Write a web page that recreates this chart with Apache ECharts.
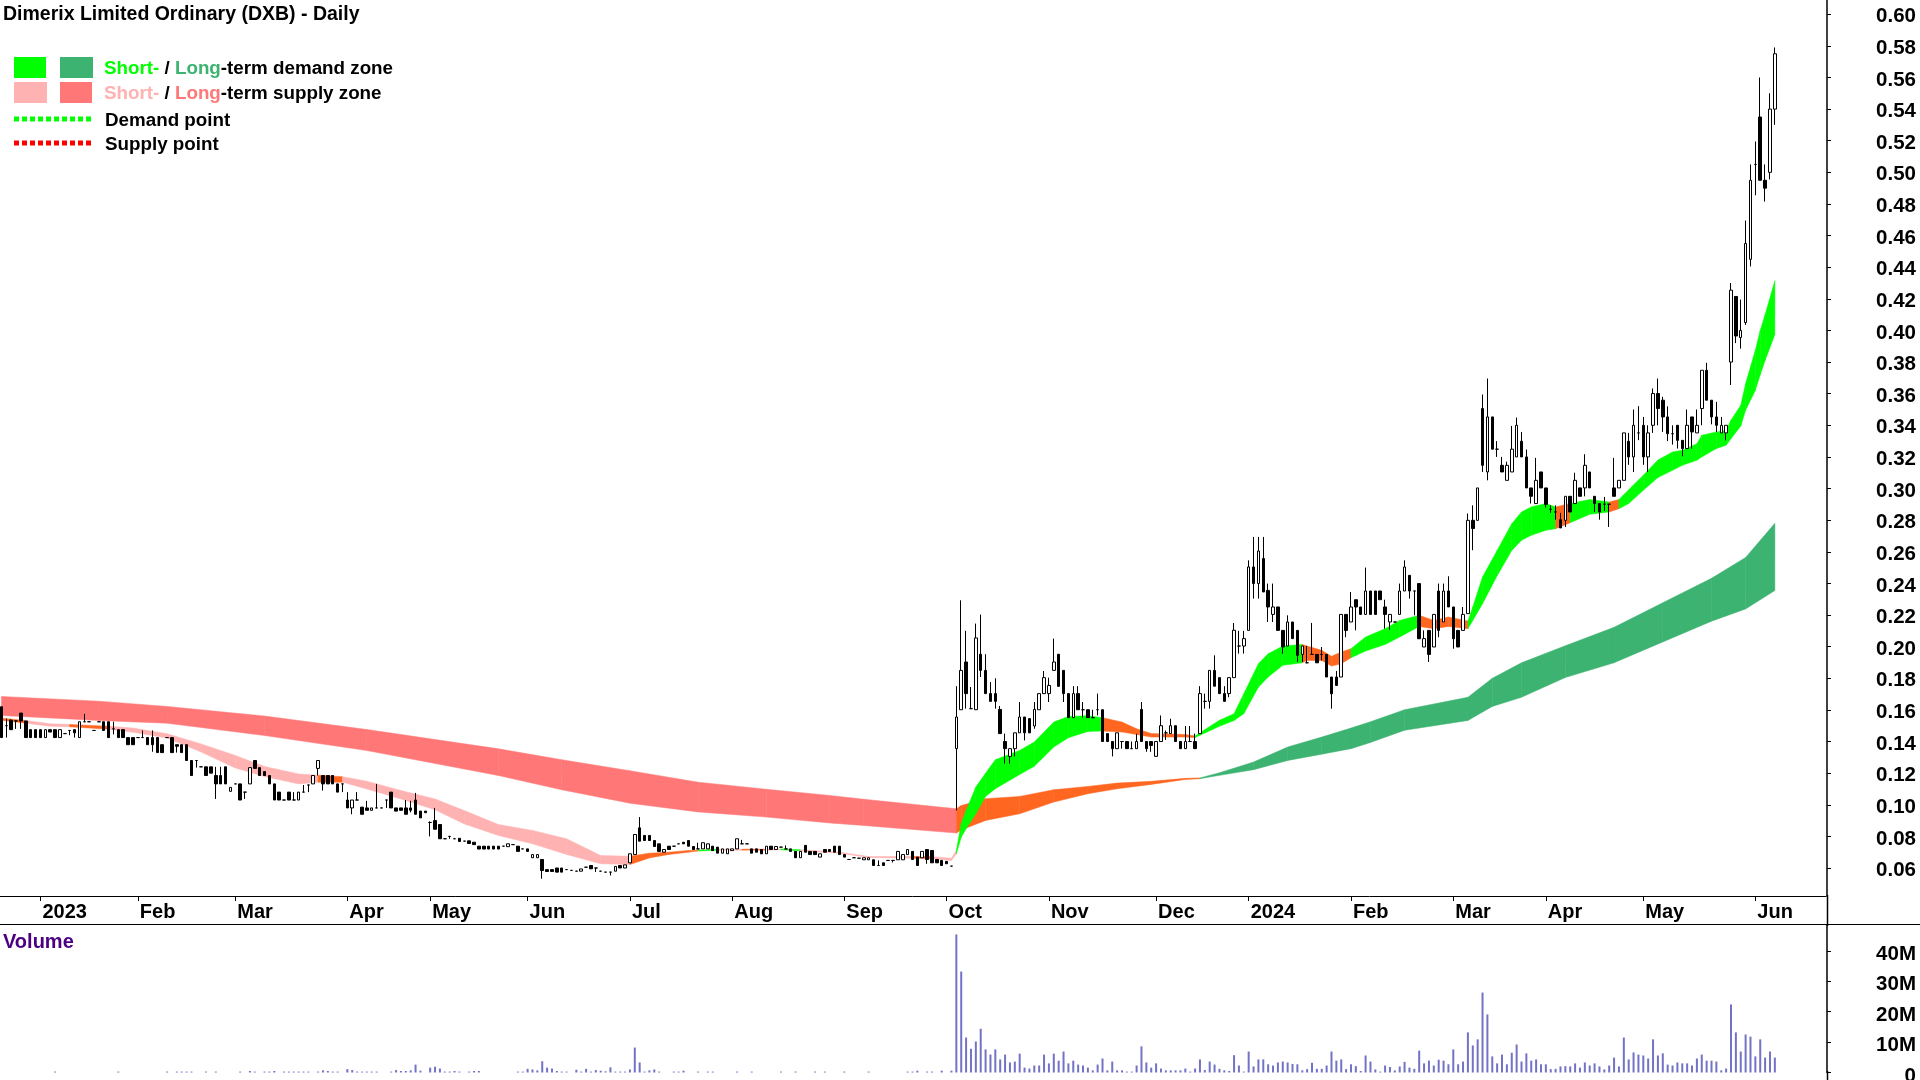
<!DOCTYPE html>
<html><head><meta charset="utf-8">
<style>html,body{margin:0;padding:0;background:#fff}#c{width:1920px;height:1080px}</style>
<script src="https://cdn.jsdelivr.net/npm/echarts@6/dist/echarts.min.js"></script>
</head><body><div id="c"></div>
<script>
const opens=[
.162,.15,.1535,.153,.158,.153,.1475,.1475,.1475,.1425,
.1475,.1475,.1425,.145,.147,.1475,.1425,.1525,.1525,.147,
.1525,.1525,.1525,.148,.1475,.1475,.1425,.1425,.1425,.1425,
.1425,.1425,.1425,.138,.1425,.1425,.138,.138,.138,.128,
.128,.124,.124,.124,.1185,.1185,.124,.1085,.1132,.1132,
.108,.1132,.128,.1235,.121,.1185,.1132,.108,.103,.108,
.103,.103,.108,.1125,.1132,.123,.1185,.1185,.1185,.1132,
.1132,.103,.098,.103,.0985,.098,.0965,.098,.098,.103,
.108,.098,.098,.098,.098,.103,.096,.096,.0888,.09,
.0875,.0785,.08,.0785,.0788,.077,.0772,.0763,.0738,.0738,
.0738,.0738,.0738,.0738,.0735,.0748,.0738,.0721,.0721,.0665,
.0665,.0654,.059,.059,.06,.06,.059,.0585,.058,.058,
.0605,.0616,.06,.058,.0574,.0574,.058,.0616,.06,.0633,
.0685,.0854,.0806,.0806,.0774,.0753,.07,.0738,.0738,.0753,
.0763,.0774,.0736,.0721,.0721,.0721,.0738,.0732,.0694,.069,
.071,.0721,.0753,.0753,.0721,.0721,.0717,.069,.0738,.0717,
.0732,.0721,.0721,.0705,.0665,.0743,.0705,.0705,.0669,.0717,
.0717,.0738,.0738,.0685,.0654,.0665,.0662,.0652,.0652,.0652,
.0616,.0633,.0648,.0648,.0652,.0652,.0685,.0705,.0669,.0665,
.0717,.0711,.0654,.0648,.0642,.0612,.1355,.1601,.1903,.1608,
.1601,.1952,.185,.1703,.1703,.1603,.14,.1306,.1355,.1455,
.1555,.1545,.1498,.1601,.1703,.1703,.185,.1952,.185,.1703,
.1551,.1703,.1601,.1601,.1551,.1601,.1601,.145,.14,.1355,
.14,.14,.1355,.1355,.1603,.14,.14,.1306,.14,.1455,
.145,.15,.14,.1355,.14,.14,.145,.1654,.1654,.185,
.1804,.1703,.1703,.1804,.2004,.2004,.2103,.2504,.2399,.2557,
.2356,.2204,.2251,.2103,.2004,.2156,.2103,.1951,.1898,.1951,
.1951,.1951,.1951,.1808,.1808,.1808,.2204,.2156,.2297,.2251,
.2204,.2352,.2352,.2352,.2251,.2156,.2156,.2204,.2352,.2451,
.2352,.2399,.1998,.2103,.1998,.2352,.2156,.2352,.2251,.2103,
.2103,.2209,.2799,.2799,.3506,.3105,.3453,.3249,.3147,.3052,
.3105,.32,.3299,.32,.3004,.2905,.3105,.3004,.2869,.2852,
.2803,.2799,.2951,.2905,.3004,.3004,.3105,.2951,.2905,.2901,
.2901,.3004,.3004,.3052,.3299,.32,.3352,.34,.32,.34,
.3601,.3559,.3453,.3347,.34,.3305,.3253,.3453,.3352,.3506,
.3748,.3559,.3453,.3352,.3352,.38,.4215,.3955,.405,.445,
.505,.535,.495,.50,.54];
const closes=[
.1425,.15,.1475,.153,.153,.1425,.1425,.1425,.1425,.1475,
.146,.1425,.1475,.145,.147,.1455,.1525,.1525,.1525,.147,
.1525,.147,.1425,.148,.1425,.1425,.138,.138,.1425,.1425,
.138,.138,.133,.133,.1425,.133,.137,.133,.128,.1185,
.128,.124,.1185,.12,.1132,.1132,.1132,.111,.1132,.103,
.108,.1235,.123,.1185,.1185,.1132,.103,.103,.103,.103,
.103,.108,.108,.1125,.1185,.128,.1132,.1132,.1132,.108,
.1132,.098,.103,.103,.094,.0965,.098,.098,.098,.103,
.098,.096,.0965,.094,.0965,.094,.0917,.095,.0888,.0845,
.0785,.0785,.08,.0785,.0768,.077,.0755,.0748,.072,.072,
.072,.072,.072,.0738,.0753,.0748,.0705,.0721,.0705,.0685,
.0685,.0584,.0578,.0578,.0574,.0574,.059,.0585,.058,.0594,
.0605,.0595,.06,.058,.0574,.0574,.061,.06,.062,.069,
.0812,.077,.0774,.0774,.0736,.0705,.0717,.0717,.0738,.0753,
.0753,.0738,.0717,.0721,.076,.0753,.071,.0694,.0721,.0721,
.0721,.0785,.0753,.0753,.0694,.07,.069,.0738,.0717,.0736,
.0732,.0721,.0705,.0665,.0705,.07,.0685,.0685,.069,.07,
.0705,.07,.0685,.0669,.0654,.0665,.0662,.0665,.0665,.0616,
.0616,.0616,.0648,.0648,.0705,.0685,.0717,.0654,.0616,.0705,
.0654,.0633,.0633,.0616,.0627,.0612,.1555,.185,.1703,.1608,
.2055,.185,.1703,.1654,.1654,.145,.1355,.1355,.1455,.1555,
.1455,.1455,.1603,.1703,.1804,.1755,.1903,.1749,.1703,.1551,
.1703,.1601,.1601,.1551,.1551,.1601,.14,.14,.1355,.1455,
.14,.1355,.1355,.14,.14,.1355,.1375,.14,.15,.1455,
.15,.14,.1355,.14,.14,.1355,.1703,.1654,.185,.175,
.1703,.1654,.1804,.2104,.2004,.2051,.2504,.2399,.2605,.2346,
.2251,.2251,.2103,.1998,.2156,.2051,.1945,.2004,.1898,.1951,
.1898,.1951,.1808,.1702,.1755,.2204,.2103,.2251,.2251,.2204,
.2352,.2204,.2204,.2297,.2204,.2204,.2156,.2352,.2504,.2352,
.2352,.205,.2051,.1951,.2204,.2103,.2352,.2251,.205,.1998,
.2204,.2799,.2747,.3004,.3147,.3453,.3249,.3249,.3105,.3147,
.3249,.34,.32,.3004,.2951,.3052,.3004,.29,.2869,.2852,
.2751,.2951,.2852,.3052,.2951,.3147,.3004,.2905,.2852,.2901,
.2901,.2951,.3052,.3352,.32,.34,.3352,.32,.3352,.3601,
.3506,.3453,.3347,.3347,.3305,.3253,.34,.3358,.34,.3748,
.3559,.3453,.34,.34,.34,.4255,.3965,.40,.455,.495,
.505,.495,.49,.54,.575];
const upperWicks={1:.1545,2:.154,3:.1535,17:.1575,23:.1525,29:.147,31:.147,44:.124,45:.124,60:.108,62:.1125,71:.108,73:.108,75:.1025,77:.1132,83:.103,84:.1025,85:.1075,88:.0895,89:.098,131:.0922,143:.076,152:.0778,161:.0743,180:.0648,
196:.175,197:.2293,198:.21,199:.1745,200:.2146,201:.2203,202:.1952,203:.1776,204:.18,205:.1625,206:.145,209:.165,212:.165,214:.1846,215:.1804,216:.2051,220:.175,221:.175,222:.165,224:.1601,225:.1703,232:.14,233:.145,234:.165,238:.1565,239:.147,240:.1544,243:.1498,244:.1498,245:.145,246:.175,247:.1703,249:.1945,251:.175,253:.215,254:.21,255:.21,256:.2546,257:.2694,258:.2694,259:.2694,260:.2399,261:.2399,264:.2198,268:.2004,269:.215,271:.1998,274:.1846,277:.2346,280:.25,284:.2297,287:.2399,288:.2546,292:.2103,295:.2399,296:.2399,297:.2445,300:.2251,301:.2842,302:.2894,304:.3595,305:.3696,307:.33,308:.32,309:.317,310:.3396,311:.3449,312:.3358,313:.3247,315:.3194,318:.2894,319:.2894,320:.2846,323:.31,325:.3217,329:.2947,331:.3194,334:.3352,335:.35,336:.3521,337:.3453,338:.34,339:.3633,340:.3696,341:.358,342:.352,343:.34,346:.35,348:.35,350:.3795,352:.3548,353:.3453,355:.43,357:.4195,358:.4695,359:.505,360:.5195,361:.56,362:.505,363:.55,364:.579};
const lowerWicks={1:.1425,3:.148,4:.148,14:.144,15:.1425,23:.1445,31:.1335,36:.133,40:.1235,44:.1037,50:.1037,63:.108,65:.1185,66:.109,70:.108,72:.094,79:.098,84:.0952,88:.08,92:.0785,111:.0532,122:.0575,125:.0553,183:.0635,190:.0627,
196:.0964,197:.16,198:.1608,200:.16,201:.1808,204:.1608,206:.126,207:.126,208:.1306,210:.1407,212:.1481,215:.165,218:.165,222:.1551,225:.1565,228:.1306,230:.1355,235:.1335,236:.1335,239:.141,247:.1608,248:.1608,252:.168,254:.1956,255:.1956,257:.2304,258:.2304,260:.2156,261:.2156,263:.1955,266:.1903,267:.1903,271:.1913,273:.1608,276:.206,278:.2103,284:.2114,285:.2107,289:.2304,290:.2198,293:.1903,295:.206,298:.1987,302:.261,304:.3105,305:.3052,307:.32,314:.2905,317:.288,318:.2846,319:.2803,321:.2757,325:.2951,327:.2852,328:.2803,329:.2858,330:.2757,334:.315,335:.3105,336:.3306,337:.315,338:.3105,339:.3352,340:.34,341:.3358,342:.33,343:.3278,344:.3253,345:.3204,347:.3253,349:.34,351:.3406,352:.3358,354:.3305,355:.3655,356:.392,357:.3885,358:.4035,359:.4405,360:.4855,362:.4815,363:.4955,364:.53};
const volumes=[
0,0,0,0,0,0,0,0,0,0,
0,.3,0,0,0,0,0,0,0,0,
0,0,0,0,.3,0,0,0,0,0,
0,0,0,0,.3,0,.3,.3,.3,.3,
0,0,.3,0,.3,0,0,0,0,.3,
0,.5,.3,0,.3,.3,.5,0,.3,.3,
.3,.3,.3,.3,0,.3,.7,.5,.3,.3,
0,1.1,.8,.3,.3,.3,.3,.3,0,0,
.3,.8,.5,.5,.7,2.6,.6,0,1.6,1.9,
1.3,.3,.3,.5,.3,0,.3,.5,.5,0,
0,0,0,0,0,0,.3,.3,1.2,1,
.7,3.7,1.6,1.3,.5,.3,.3,0,.9,.3,
1.2,.3,.8,.6,.4,1.7,.3,.3,.3,1,
8.2,3.3,.3,.7,1,.3,0,0,.3,.3,
.6,0,0,.3,0,.3,.3,0,0,0,
0,.3,0,0,.3,0,0,0,0,0,
.3,0,0,.3,0,0,0,.3,0,.3,
0,0,0,.3,0,0,0,0,.3,0,
0,0,0,0,0,0,.3,.3,.6,0,
.3,.3,0,.6,0,.6,45.4,33.2,11.5,7.8,
10.2,14.4,7.6,5.9,7.6,4.3,5.9,3.3,3.6,6.2,
1.6,1.3,2.3,2.3,5.9,3,6.2,3.9,6.9,3,
3.9,2.6,2.3,1.6,.7,2.6,4.6,.7,3.6,.7,
.7,.3,.3,2.3,8.6,3.3,1.6,3,1.3,.7,
.7,.7,.7,1.3,.3,1.3,4.3,.8,3.6,2.6,
1.2,.7,.5,5.7,2.3,.3,6.9,2,4.3,4.3,
2.7,2.3,3.3,3.6,3.3,2.8,2.7,.7,1.1,3.2,
1.2,1.2,2.3,6.9,3.9,4.3,1.1,2.7,2.1,.5,
5.6,3.6,1,.3,2.3,1.8,.7,2,3.5,1.6,
1.2,7.2,3,3.9,2.3,4.2,3.9,2.7,7.6,2.7,
3.6,13.2,8.9,10.9,26.3,19.1,5.3,3,5.9,2.7,
6.5,9.2,3.6,6.3,3.9,4.3,2.7,2.7,1.1,1.2,
2,2.1,2,3,1.6,3.3,2.3,3,2,1,
2.3,4.9,2,11.5,4.3,6.6,5.9,5.6,4.6,10.9,
5.6,6.3,2.6,2.3,3.3,3,3,2.3,4.6,5.9,
3.9,3.9,3.6,.7,1.3,22.4,13.2,6.9,12.5,11.8,
5.3,10.9,4.9,6.9,4.9];

// Short-term zone readings: day index, top, bottom
const shortDays=[0,5,10,14,22,27,34,41,48,54,61,65,70,75,82,89,95,102,109,116,123,129,133,137,141,143,147,152,157,160,164,172,178,187,191,195,196,197,198,200,202,204,209,212,216,219,223,226,230,233,236,243,245,250,253,255,258,260,263,267,268,271,273,275,277,280,284,287,291,294,297,301,302,304,307,310,312,314,317,319,322,326,330,332,334,337,340,343,345,348,349,352,354,355,357,358,360,361,362,364];
const shortTop=[.1548,.1533,.1512,.1508,.1497,.1485,.1449,.1385,.1312,.1242,.1195,.1187,.1178,.1149,.109,.1037,.0963,.0875,.0838,.0785,.0679,.0675,.0694,.07,.0711,.0713,.0718,.0719,.0719,.0721,.0715,.07,.0673,.0673,.0672,.0662,.0711,.088,.0964,.1112,.12,.1285,.1344,.1397,.1523,.1559,.1563,.1551,.1523,.1481,.145,.1445,.1435,.1534,.1576,.1702,.1892,.1955,.2004,.2014,.2004,.1977,.1939,.1966,.1987,.2061,.2114,.2166,.2198,.2166,.2188,.2162,.2251,.2441,.2609,.2778,.2852,.2884,.2905,.2884,.2905,.293,.2915,.293,.2993,.3084,.318,.3231,.3242,.3284,.3337,.3358,.3369,.3432,.3527,.3664,.3875,.40,.41,.4315];
const shortBottom=[.1535,.1516,.1497,.1493,.1478,.1459,.1423,.1333,.1233,.1179,.1132,.1143,.1143,.11,.1037,.0968,.0879,.0806,.0753,.0686,.0627,.0622,.0664,.0686,.07,.0707,.0712,.0713,.0713,.0715,.0709,.0694,.0667,.0662,.066,.0648,.069,.0795,.0848,.0943,.1053,.1101,.1192,.1243,.1365,.1424,.1464,.1466,.146,.1445,.1428,.1428,.1425,.1496,.1533,.1576,.1744,.1808,.1882,.1898,.1913,.1913,.1877,.1892,.193,.1972,.2014,.2061,.2128,.2114,.2128,.2114,.2166,.2272,.2448,.2609,.2673,.2704,.2736,.2746,.2784,.2837,.2852,.2873,.2905,.2989,.307,.3115,.3147,.3179,.32,.3253,.3274,.3315,.3395,.3495,.3622,.372,.381,.3975];
// Days where the short zone changes colour, and the colour from that day on
const shortKindDays=[0,5,14,22,65,70,129,143,147,152,157,160,164,187,191,196,226,245,267,277,291,301,319,322,330,332];
const shortKindNames=['O','P','O','P','O','P','O','G','P','O','P','G','P','O','P','G','O','G','O','G','O','G','O','G','O','G'];
// Long-term zone readings
const longDays=[0,20,34,54,75,102,115,129,143,157,170,177,196,197,202,209,216,223,229,236,243,246,250,257,264,271,277,281,288,301,306,312,321,331,341,351,358,364];
const longTop=[.1685,.1655,.1622,.1561,.1476,.1354,.1285,.1215,.1143,.1098,.1059,.1035,.0975,.0995,.1038,.1053,.1095,.1116,.1137,.1148,.1167,.117,.1202,.127,.1365,.1428,.1485,.1525,.1601,.168,.18,.1898,.2006,.2122,.2278,.2432,.2564,.278];
const longBottom=[.1565,.1533,.1516,.1438,.1343,.1185,.1095,.101,.0955,.0922,.0885,.0869,.0821,.084,.0901,.0943,.1017,.107,.1101,.1129,.116,.1165,.1186,.1222,.128,.132,.1355,.1394,.1471,.1533,.1622,.168,.1805,.1898,.203,.2161,.2239,.2355];
const longKindDays=[0,196,246];
const longKindNames=['R','O','G'];

const monthDays=[8,28,48,71,88,108,129,150,173,194,215,237,256,277,298,317,337,360];
const monthLabels=["2023","Feb","Mar","Apr","May","Jun","Jul","Aug","Sep","Oct","Nov","Dec","2024","Feb","Mar","Apr","May","Jun"];
const priceTicks=[.06,.08,.10,.12,.14,.16,.18,.20,.22,.24,.26,.28,.30,.32,.34,.36,.38,.40,.42,.44,.46,.48,.50,.52,.54,.56,.58,.60];
const volumeTicks=[0,10,20,30,40];
const slotCount=375;

const FONT='"Liberation Sans", Arial, sans-serif';
const colors={G0:'#00ff00',G1:'#3cb371',P:'#ffb2b2',R:'#ff7777',O:'#ff6620'};
const slots=Array(slotCount).fill('');
monthDays.forEach((d,i)=>{slots[d]=monthLabels[i];});
const monthSet=new Set(monthDays);
const candles=opens.map((o,i)=>{
  const c=closes[i];
  return [o,c,lowerWicks[i]??Math.min(o,c),upperWicks[i]??Math.max(o,c)];
});
function kindAt(day,kindDays,kindNames){
  let k=kindNames[0];
  kindDays.forEach((d,i)=>{if(d<=day)k=kindNames[i];});
  return k;
}
function zoneSegments(days,top,bottom,kindDays,kindNames,green){
  const out=[];
  for(let i=0;i<days.length-1;i++){
    const k=kindAt(days[i],kindDays,kindNames);
    out.push([days[i],days[i+1],top[i],bottom[i],top[i+1],bottom[i+1],k==='G'?green:colors[k]]);
  }
  return out;
}
function renderZone(params,api){
  const a=api.coord([api.value(0),api.value(2)]);
  const b=api.coord([api.value(1),api.value(4)]);
  const c=api.coord([api.value(1),api.value(5)]);
  const d=api.coord([api.value(0),api.value(3)]);
  const col=zoneColor[params.seriesName][params.dataIndex];
  return {type:'polygon',shape:{points:[a,b,c,d]},style:{fill:col,stroke:col,lineWidth:.5},silent:true};
}
const longSegs=zoneSegments(longDays,longTop,longBottom,longKindDays,longKindNames,colors.G1);
const shortSegs=zoneSegments(shortDays,shortTop,shortBottom,shortKindDays,shortKindNames,colors.G0);
const zoneColor={longZone:longSegs.map(s=>s[6]),shortZone:shortSegs.map(s=>s[6])};

const LEG=18.8;
const txt=(text,left,cy,size,rich)=>({text,left,top:cy-11,padding:0,itemGap:0,
  textStyle:{fontFamily:FONT,fontSize:size,fontWeight:'bold',color:'#000',lineHeight:22,rich:rich||{}}});
const R=(color)=>({color,fontFamily:FONT,fontSize:LEG,fontWeight:'bold',lineHeight:22});
const chart=echarts.init(document.getElementById('c'),null,{renderer:'canvas',width:1920,height:1080});
chart.setOption({
  animation:false,backgroundColor:'#fff',
  title:[
    txt('Dimerix Limited Ordinary (DXB) - Daily',3,15,19.5),
    txt('{a|Short-} / {b|Long}-term demand zone',104,69,LEG,{a:R('#00ff00'),b:R('#3cb371')}),
    txt('{a|Short-} / {b|Long}-term supply zone',104,94,LEG,{a:R('#ffb2b2'),b:R('#ff7777')}),
    txt('Demand point',105,121,LEG),
    txt('Supply point',105,145,LEG),
    {text:'Volume',left:3,top:931,padding:0,textStyle:{fontFamily:FONT,fontSize:20,fontWeight:'bold',color:'#4b0082',lineHeight:22}}
  ],
  grid:[
    {left:-1,top:0,width:1827,height:896,containLabel:false,outerBoundsMode:'none'},
    {left:-1,top:925,width:1827,height:147.5,containLabel:false,outerBoundsMode:'none'}
  ],
  xAxis:[
    {type:'category',gridIndex:0,data:slots,boundaryGap:true,
     axisLine:{show:true,lineStyle:{color:'#000',width:1}},
     axisTick:{show:true,interval:(i)=>monthSet.has(i),alignWithLabel:true,length:5,lineStyle:{color:'#000'}},
     axisLabel:{show:true,interval:(i)=>monthSet.has(i),align:'left',margin:6.5,padding:[0,0,0,2],
       fontFamily:FONT,fontSize:20,fontWeight:'bold',color:'#000'},
     splitLine:{show:false}},
    {type:'category',gridIndex:1,data:slots,boundaryGap:true,show:false}
  ],
  yAxis:[
    {type:'value',gridIndex:0,position:'right',offset:1,min:.0423,max:.609,scale:true,
     axisLine:{show:true,lineStyle:{color:'#000',width:1.5}},
     axisTick:{show:true,length:4,customValues:priceTicks,lineStyle:{color:'#000'}},
     axisLabel:{customValues:priceTicks,formatter:v=>v.toFixed(2),align:'right',margin:89,verticalAlign:'top',lineHeight:5,
       fontFamily:FONT,fontSize:20.5,fontWeight:'bold',color:'#000'},
     splitLine:{show:false}},
    {type:'value',gridIndex:1,position:'right',offset:1,min:0,max:48.52,
     axisLine:{show:true,lineStyle:{color:'#000',width:1.5}},
     axisTick:{show:true,length:4,customValues:volumeTicks,lineStyle:{color:'#000'}},
     axisLabel:{customValues:volumeTicks,formatter:v=>v===0?'0':v+'M',align:'right',margin:89,verticalAlign:'top',lineHeight:7,
       fontFamily:FONT,fontSize:20.5,fontWeight:'bold',color:'#000'},
     splitLine:{show:false}}
  ],
  series:[
    {name:'longZone',type:'custom',xAxisIndex:0,yAxisIndex:0,renderItem:renderZone,data:longSegs.map(s=>s.slice(0,6)),encode:{x:[0,1],y:[2,3,4,5]},z:1,silent:true},
    {name:'shortZone',type:'custom',xAxisIndex:0,yAxisIndex:0,renderItem:renderZone,data:shortSegs.map(s=>s.slice(0,6)),encode:{x:[0,1],y:[2,3,4,5]},z:2,silent:true},
    {name:'price',type:'candlestick',xAxisIndex:0,yAxisIndex:0,data:candles,barWidth:3,z:5,silent:true,
     itemStyle:{color:'#ffffff',color0:'#000000',borderColor:'#000000',borderColor0:'#000000',borderWidth:1}},
    {name:'volume',type:'bar',xAxisIndex:1,yAxisIndex:1,data:volumes,barWidth:2,itemStyle:{color:'#7272c6'},silent:true}
  ],
  graphic:[
    {type:'rect',shape:{x:14,y:57,width:32,height:21},style:{fill:colors.G0},silent:true},
    {type:'rect',shape:{x:60,y:57,width:33,height:21},style:{fill:colors.G1},silent:true},
    {type:'rect',shape:{x:14,y:82,width:33,height:21},style:{fill:colors.P},silent:true},
    {type:'rect',shape:{x:60,y:82,width:32,height:21},style:{fill:colors.R},silent:true},
    {type:'line',shape:{x1:14,y1:119,x2:92,y2:119},style:{stroke:'#00ff00',lineWidth:5,lineDash:[5,3]},silent:true},
    {type:'line',shape:{x1:14,y1:143,x2:92,y2:143},style:{stroke:'#ff0000',lineWidth:5,lineDash:[5,3]},silent:true},
    {type:'line',shape:{x1:0,y1:924.5,x2:1920,y2:924.5},style:{stroke:'#000',lineWidth:1},silent:true},
    {type:'line',shape:{x1:1827.5,y1:895,x2:1827.5,y2:926},style:{stroke:'#000',lineWidth:1.5},silent:true},
    {type:'line',shape:{x1:1827.5,y1:1071,x2:1827.5,y2:1080},style:{stroke:'#000',lineWidth:1.5},silent:true}
  ]
});
</script></body></html>
